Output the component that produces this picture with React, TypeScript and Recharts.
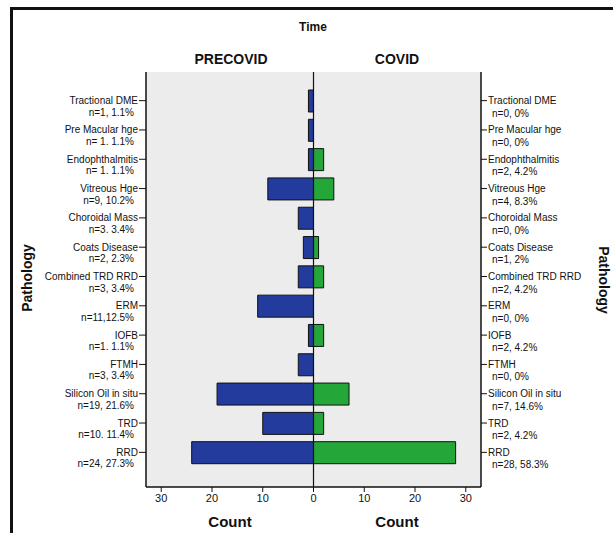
import React from 'react';
import { BarChart, Bar, XAxis, YAxis, CartesianGrid, ReferenceLine } from 'recharts';

const categories = [
    'Tractional DME', 'Pre Macular hge', 'Endophthalmitis', 'Vitreous Hge', 'Choroidal Mass',
    'Coats Disease', 'Combined TRD RRD', 'ERM', 'IOFB', 'FTMH', 'Silicon Oil in situ', 'TRD', 'RRD',
];

const precovidCounts = [1, 1, 1, 9, 3, 2, 3, 11, 1, 3, 19, 10, 24];
const covidCounts = [0, 0, 2, 4, 0, 1, 2, 0, 2, 0, 7, 2, 28];

const precovidNotes = [
    'n=1, 1.1%', 'n= 1. 1.1%', 'n= 1. 1.1%', 'n=9, 10.2%', 'n=3. 3.4%', 'n=2, 2.3%', 'n=3, 3.4%',
    'n=11,12.5%', 'n=1. 1.1%', 'n=3, 3.4%', 'n=19, 21.6%', 'n=10. 11.4%', 'n=24, 27.3%',
];
const covidNotes = [
    'n=0, 0%', 'n=0, 0%', 'n=2, 4.2%', 'n=4, 8.3%', 'n=0, 0%', 'n=1, 2%', 'n=2, 4.2%',
    'n=0, 0%', 'n=2, 4.2%', 'n=0, 0%', 'n=7, 14.6%', 'n=2, 4.2%', 'n=28, 58.3%',
];

const countTicks = [-30, -20, -10, 0, 10, 20, 30];

const data = categories.map((name, i) => ({
    name,
    precovid: -precovidCounts[i],
    covid: covidCounts[i],
}));

const FONT = '"Liberation Sans", Arial, sans-serif';

const LeftTick = (props: any) => {
    const { x, y, payload } = props;
    const i = categories.indexOf(payload.value);
    return (
        <g>
            <text x={x} y={y + 3.5} textAnchor="end" fontSize={10} fill="#111" fontFamily={FONT}>{payload.value}</text>
            <text x={x - 4} y={y + 15} textAnchor="end" fontSize={10} fill="#111" fontFamily={FONT}>{precovidNotes[i]}</text>
        </g>
    );
};

const RightTick = (props: any) => {
    const { x, y, payload } = props;
    const i = categories.indexOf(payload.value);
    return (
        <g>
            <text x={x} y={y + 3.5} textAnchor="start" fontSize={10} fill="#111" fontFamily={FONT}>{payload.value}</text>
            <text x={x + 4} y={y + 16} textAnchor="start" fontSize={10} fill="#111" fontFamily={FONT}>{covidNotes[i]}</text>
        </g>
    );
};

const label = (style: React.CSSProperties): React.CSSProperties => ({
    position: 'absolute',
    fontFamily: FONT,
    fontWeight: 'bold',
    color: '#111',
    whiteSpace: 'nowrap',
    transform: 'translate(-50%, -50%)',
    ...style,
});

const App: React.FC = () => {
    return (
        <div style={{ position: 'absolute', left: 0, top: 0, width: 613, height: 533, background: '#fff', overflow: 'hidden' }}>
            <div style={{ position: 'absolute', left: 10, top: 7, width: 600, height: 540, borderTop: '3px solid #111', borderLeft: '3px solid #111', borderRight: '1px solid #ddd' }} />
            <div style={label({ left: 313, top: 27, fontSize: 12 })}>Time</div>
            <div style={label({ left: 231, top: 59, fontSize: 14 })}>PRECOVID</div>
            <div style={label({ left: 397, top: 59, fontSize: 14 })}>COVID</div>
            <div style={label({ left: 230, top: 521, fontSize: 15 })}>Count</div>
            <div style={label({ left: 397, top: 521, fontSize: 15 })}>Count</div>
            <div style={label({ left: 27, top: 278, fontSize: 14, transform: 'translate(-50%, -50%) rotate(-90deg)' })}>Pathology</div>
            <div style={label({ left: 604, top: 280, fontSize: 14, transform: 'translate(-50%, -50%) rotate(90deg)' })}>Pathology</div>
            <div style={{ position: 'absolute', left: 0, top: 0 }}>
                <BarChart
                    width={613}
                    height={533}
                    data={data}
                    layout="vertical"
                    stackOffset="sign"
                    margin={{ top: 72, right: 10, bottom: 26, left: 10 }}
                >
                    <CartesianGrid fill="#ececec" horizontal={false} vertical={false} />
                    <XAxis
                        type="number"
                        domain={[-33, 33]}
                        ticks={countTicks}
                        tickFormatter={(v: number) => String(Math.abs(v))}
                        height={20}
                        tickSize={5}
                        tick={{ fontSize: 11, fill: '#111', fontFamily: FONT }}
                        axisLine={{ stroke: '#111', strokeWidth: 1.5 }}
                        tickLine={{ stroke: '#111' }}
                    />
                    <XAxis
                        xAxisId="top"
                        orientation="top"
                        type="number"
                        domain={[-33, 33]}
                        height={0}
                        tick={false}
                        tickLine={false}
                        axisLine={{ stroke: '#111', strokeWidth: 1.5 }}
                    />
                    <YAxis
                        yAxisId="left"
                        type="category"
                        dataKey="name"
                        width={136}
                        padding={{ top: 14, bottom: 20 }}
                        tickSize={7}
                        tickMargin={1}
                        tick={<LeftTick />}
                        interval={0}
                        axisLine={{ stroke: '#111', strokeWidth: 1.5 }}
                        tickLine={{ stroke: '#111' }}
                    />
                    <YAxis
                        yAxisId="right"
                        orientation="right"
                        type="category"
                        dataKey="name"
                        width={122}
                        padding={{ top: 14, bottom: 20 }}
                        tickSize={6}
                        tickMargin={1}
                        tick={<RightTick />}
                        interval={0}
                        axisLine={{ stroke: '#111', strokeWidth: 1.5 }}
                        tickLine={{ stroke: '#111' }}
                    />
                    <Bar yAxisId="left" dataKey="precovid" stackId="s" barSize={22} fill="#243b9e" stroke="#111" strokeWidth={1} isAnimationActive={false} />
                    <Bar yAxisId="left" dataKey="covid" stackId="s" barSize={22} fill="#25a638" stroke="#111" strokeWidth={1} isAnimationActive={false} />
                    <ReferenceLine yAxisId="left" x={0} stroke="#111" strokeWidth={1.2} />
                </BarChart>
            </div>
        </div>
    );
};

export default App;
